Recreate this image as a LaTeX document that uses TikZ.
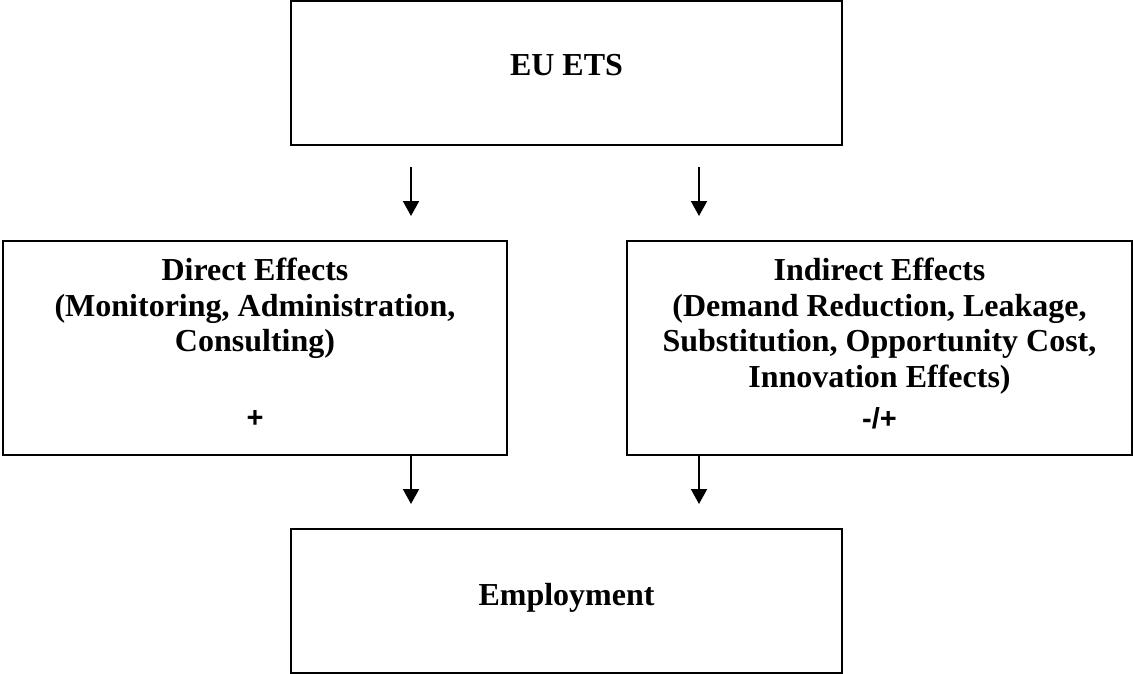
\documentclass[tikz,border=0pt]{standalone}
\usepackage{fontspec}
\setmainfont{Liberation Serif}
\setsansfont{Liberation Sans}
\usetikzlibrary{arrows.meta}
\begin{document}
\begin{tikzpicture}[x=1pt,y=-1pt,
  box/.style={draw=black, line width=2.6pt, rectangle, inner sep=0pt},
  lbl/.style={font=\fontsize{32}{35.5}\selectfont\bfseries, align=center, inner sep=0pt, anchor=base},
  sgn/.style={font=\fontsize{29}{33}\selectfont\sffamily\bfseries, inner sep=0pt, anchor=base},
  arr/.style={line width=2pt, -{Triangle[width=16pt,length=15pt]}}]
\useasboundingbox (0,0) rectangle (1133,674);
% boxes
\node[box, minimum width=551pt, minimum height=144pt] (ets) at (566.5,73) {};
\node[box, minimum width=504pt, minimum height=214pt] (dir) at (255,348) {};
\node[box, minimum width=505pt, minimum height=214pt] (ind) at (879.5,348) {};
\node[box, minimum width=551pt, minimum height=144pt] (emp) at (566.5,601) {};
% labels (base anchor = baseline of last line)
\node[lbl] (etst) at (566.5,76) {EU ETS};
\node[lbl] (dirt) at (255,351.7) {Direct Effects\\(Monitoring, Administration,\\Consulting)};
\node[sgn] (dirs) at (255,427) {+};
\node[lbl] (indt) at (879.5,387) {Indirect Effects\\(Demand Reduction, Leakage,\\Substitution, Opportunity Cost,\\Innovation Effects)};
\node[sgn] (inds) at (879.5,428) {-/+};
\node[lbl] (empt) at (566.5,605) {Employment};
% connectors
\coordinate (a1s) at (411,167); \coordinate (a1e) at (411,216);
\coordinate (a2s) at (699,167); \coordinate (a2e) at (699,216);
\coordinate (b1s) at (411,456); \coordinate (b1e) at (411,504);
\coordinate (b2s) at (699,456); \coordinate (b2e) at (699,504);
\draw[arr] (a1s) -- (a1e);
\draw[arr] (a2s) -- (a2e);
\draw[arr] (b1s) -- (b1e);
\draw[arr] (b2s) -- (b2e);
\end{tikzpicture}
\end{document}
